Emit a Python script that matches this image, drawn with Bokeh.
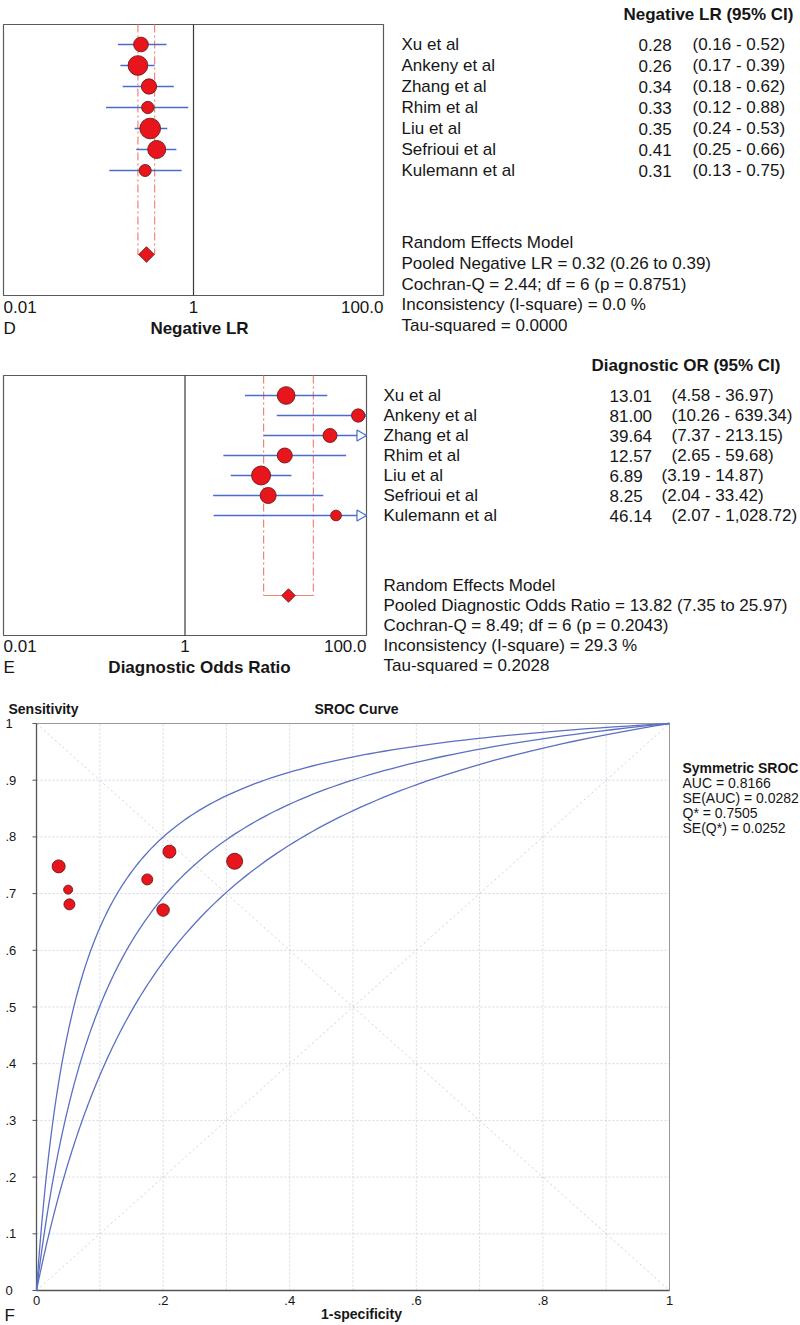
import numpy as np
from bokeh.plotting import figure
from bokeh.layouts import column
from bokeh.models import Range1d, LogScale
from bokeh.core.properties import value
from bokeh.embed import file_html
from bokeh.resources import INLINE

# ---------------- data ----------------
studies = ["Xu et al", "Ankeny et al", "Zhang et al", "Rhim et al",
           "Liu et al", "Sefrioui et al", "Kulemann et al"]

nlr = [0.28, 0.26, 0.34, 0.33, 0.35, 0.41, 0.31]
nlr_lo = [0.16, 0.17, 0.18, 0.12, 0.24, 0.25, 0.13]
nlr_hi = [0.52, 0.39, 0.62, 0.88, 0.53, 0.66, 0.75]
nlr_weight = [14.7, 19.7, 15.3, 12.3, 20.7, 18.0, 12.0]   # marker diameter ~ study weight
nlr_pooled, nlr_pooled_lo, nlr_pooled_hi = 0.32, 0.26, 0.39
nlr_stats = ["Random Effects Model",
             "Pooled Negative LR = 0.32 (0.26 to 0.39)",
             "Cochran-Q = 2.44; df =  6 (p = 0.8751)",
             "Inconsistency (I-square) = 0.0 %",
             "Tau-squared = 0.0000"]

dor = [13.01, 81.00, 39.64, 12.57, 6.89, 8.25, 46.14]
dor_lo = [4.58, 10.26, 7.37, 2.65, 3.19, 2.04, 2.07]
dor_hi = [36.97, 639.34, 213.15, 59.68, 14.87, 33.42, 1028.72]
dor_weight = [17.7, 13.3, 14.0, 15.0, 19.0, 16.0, 10.7]
dor_pooled, dor_pooled_lo, dor_pooled_hi = 13.82, 7.35, 25.97
dor_stats = ["Random Effects Model",
             "Pooled Diagnostic Odds Ratio = 13.82 (7.35 to 25.97)",
             "Cochran-Q = 8.49; df =  6 (p = 0.2043)",
             "Inconsistency (I-square) = 29.3 %",
             "Tau-squared = 0.2028"]

forest_ticks = [0.01, 1, 100]
forest_tick_labels = ["0.01", "1", "100.0"]

sroc_fpr = [0.035, 0.050, 0.052, 0.175, 0.210, 0.200, 0.313]
sroc_tpr = [0.748, 0.707, 0.681, 0.725, 0.774, 0.671, 0.757]
sroc_weight = [13.0, 9.0, 11.0, 11.0, 13.0, 12.5, 16.0]
q_star, se_q_star = 0.7505, 0.0252
sroc_stats = ["AUC = 0.8166", "SE(AUC) = 0.0282", "Q* = 0.7505", "SE(Q*) = 0.0252"]
sroc_xticks = [0.0, 0.2, 0.4, 0.6, 0.8, 1.0]
sroc_xlabels = ["0", ".2", ".4", ".6", ".8", "1"]
sroc_yticks = [0.0, 0.1, 0.2, 0.3, 0.4, 0.5, 0.6, 0.7, 0.8, 0.9, 1.0]
sroc_ylabels = ["0", ".1", ".2", ".3", ".4", ".5", ".6", ".7", ".8", ".9", "1"]
sroc_grid = [0.1, 0.2, 0.3, 0.4, 0.5, 0.6, 0.7, 0.8, 0.9]

# ---------------- styling / layout ----------------
W = 800
FONT = "Liberation Sans"
BIG = "17px"
SMALL = "14px"
TICKF = "13px"
RED = "#e8161c"
EDGE = "#6a1a1a"
BLUE = "#4a6ccc"
DASH = "#f08478"
TXT = "#161616"
X_MIN, X_MAX = 0.01, 100.0


def base_fig(H, x_range, y_range):
    p = figure(width=W, height=H, x_range=x_range, y_range=y_range,
               x_axis_location=None, y_axis_location=None, min_border=0,
               toolbar_location=None, output_backend="svg", outline_line_color=None)
    p.grid.visible = False
    return p


def forest(top, H, row1, spacing, box_top, box_bot, box_right,
           est, lo, hi, weight, pooled, plo, phi, diamond,
           header, header_right, header_y, name_x, val_x, ci_gap,
           stats, stats_y, stats_step, tick_y, letter, title, title_y):
    n = len(est)
    rows = np.arange(1, n + 1, dtype=float)
    pooled_row = n + 4.0

    def r(ref):
        return 1.0 + (ref - row1) / spacing

    p = base_fig(H, Range1d(0, W), Range1d(r(top + H), r(top)))
    L, R = 3.0, float(box_right)
    ppd = (R - L) / 4.0
    p.extra_x_ranges = {"log": Range1d(10 ** (-2 - L / ppd), 10 ** (2 + (W - R) / ppd))}
    p.extra_x_scales = {"log": LogScale()}

    p.quad(left=[X_MIN], right=[X_MAX], top=[r(box_top)], bottom=[r(box_bot)],
           x_range_name="log", fill_color=None, line_color="#5a5a5a", line_width=1.2)
    p.segment(x0=[1], x1=[1], y0=[r(box_top)], y1=[r(box_bot)], x_range_name="log",
              line_color="#3a3a3a", line_width=1.2)
    p.segment(x0=[plo, phi], x1=[plo, phi], y0=[r(box_top)] * 2, y1=[pooled_row] * 2,
              x_range_name="log", line_color=DASH, line_dash="8 3 2 3", line_width=1.2)
    p.segment(x0=[plo], x1=[phi], y0=[pooled_row], y1=[pooled_row],
              x_range_name="log", line_color=DASH, line_width=1.2)
    lo_a = np.clip(np.array(lo), X_MIN, X_MAX)
    hi_a = np.clip(np.array(hi), X_MIN, X_MAX)
    p.segment(x0=lo_a, x1=hi_a, y0=rows, y1=rows, x_range_name="log",
              line_color=BLUE, line_width=1.3)
    over = np.array(hi) > X_MAX
    if over.any():
        tri = 11.0
        ax = 10 ** (np.log10(X_MAX) - (tri / np.sqrt(3)) / ppd)
        p.scatter(x=[ax] * int(over.sum()), y=rows[over], marker="triangle",
                  angle=-np.pi / 2, size=tri, fill_color="white",
                  line_color=BLUE, line_width=1.2, x_range_name="log")
    p.scatter(x=est, y=rows, size=weight, marker="circle",
              fill_color=RED, line_color=EDGE, line_width=0.9, x_range_name="log")
    p.scatter(x=[pooled], y=[pooled_row], size=diamond, marker="square",
              angle=np.pi / 4, fill_color=RED, line_color=EDGE, line_width=0.9,
              x_range_name="log")

    common = dict(text_font=value(FONT), text_font_size=BIG, text_baseline="middle",
                  text_color=TXT)
    p.text(x=[header_right], y=[r(header_y)], text=[header], text_align="right",
           text_font_style="bold", **common)
    p.text(x=[name_x] * n, y=rows, text=studies, text_align="left", **common)
    vals = [f"{v:.2f}" for v in est]
    cis = [f"({a:,.2f} - {b:,.2f})" for a, b in zip(lo, hi)]
    p.text(x=[val_x] * n, y=rows, text=vals, text_align="left", **common)
    p.text(x=[val_x + 10 * len(v) + ci_gap for v in vals], y=rows, text=cis,
           text_align="left", **common)
    p.text(x=[name_x] * len(stats),
           y=[r(stats_y + i * stats_step) for i in range(len(stats))],
           text=stats, text_align="left", **common)
    for t, lab, al in zip(forest_ticks, forest_tick_labels, ["left", "center", "right"]):
        p.text(x=[t], y=[r(tick_y)], text=[lab], text_align=al, x_range_name="log", **common)
    p.text(x=[3], y=[r(title_y)], text=[letter], text_align="left", **common)
    p.text(x=[199], y=[r(title_y)], text=[title], text_align="center",
           text_font_style="bold", **common)
    return p


pD = forest(0, 345, 44, 21.0, 24, 295, 383, nlr, nlr_lo, nlr_hi, nlr_weight,
            nlr_pooled, nlr_pooled_lo, nlr_pooled_hi, 11.0,
            "Negative LR (95% CI)", 793, 14, 401, 638, 14,
            nlr_stats, 242, 20.8, 306, "D", "Negative LR", 328)

pE = forest(345, 343, 395, 20.0, 375, 635, 366, dor, dor_lo, dor_hi, dor_weight,
            dor_pooled, dor_pooled_lo, dor_pooled_hi, 9.5,
            "Diagnostic OR (95% CI)", 780, 365, 383, 609, 12,
            dor_stats, 585, 20.0, 645, "E", "Diagnostic Odds Ratio", 667)

# ---------------- SROC ----------------
topF, HF = 688, 636
X0P, X1P, Y0P, Y1P = 36.0, 669.0, 1290.0, 723.0   # plot box in page pixels


def dx(px):
    return (px - X0P) / (X1P - X0P)


def dy(py):
    return (Y0P - py) / (Y0P - Y1P)


pF = base_fig(HF, Range1d(dx(0), dx(W)), Range1d(dy(topF + HF), dy(topF)))

# grid
g = np.array(sroc_grid)
pF.segment(x0=g, x1=g, y0=0, y1=1, line_color="#d3d7e2", line_dash="2 2", line_width=1)
pF.segment(x0=0, x1=1, y0=g, y1=g, line_color="#d3d7e2", line_dash="2 2", line_width=1)
# diagonals
pF.line([0, 1], [1, 0], line_color="#cfd0d6", line_dash="2 3", line_width=1)
pF.line([0, 1], [0, 1], line_color="#cfd0d6", line_dash="2 3", line_width=1)
# box and axes
pF.quad(left=[0], right=[1], bottom=[0], top=[1], fill_color=None,
        line_color="#9a9a9a", line_width=1)
pF.segment(x0=[0, 0], x1=[0, 1], y0=[0, 0], y1=[1, 0], line_color="#555555", line_width=1.3)
yt = np.array(sroc_yticks)
pF.segment(x0=dx(X0P - 4), x1=0, y0=yt, y1=yt, line_color="#555555", line_width=1)
pF.text(x=dx(5), y=yt, text=sroc_ylabels, text_font=value(FONT), text_font_size=TICKF,
        text_align="left", text_baseline="middle", text_color=TXT)
pF.text(x=sroc_xticks, y=dy(1300), text=sroc_xlabels, text_font=value(FONT),
        text_font_size=TICKF, text_align="center", text_baseline="middle", text_color=TXT)

# SROC curves (symmetric Moses-Littenberg model at Q* and Q* +/- 1.96 SE)
fgrid = np.concatenate([[0.0], np.logspace(-5, 0, 500)])
safe = np.where(fgrid > 0, fgrid, 1.0)
for q in (q_star - 1.96 * se_q_star, q_star, q_star + 1.96 * se_q_star):
    dlog = 2 * np.log(q / (1 - q))
    tpr = np.where(fgrid > 0, 1 / (1 + (1 - safe) / safe * np.exp(-dlog)), 0.0)
    pF.line(fgrid, tpr, line_color="#5b6fc4", line_width=1.3)

pF.scatter(sroc_fpr, sroc_tpr, size=sroc_weight, marker="circle",
           fill_color=RED, line_color=EDGE, line_width=0.9)


def lab(px, py, text, size, bold=False, align="left"):
    pF.text(x=[dx(px)], y=[dy(py)], text=[text], text_font=value(FONT),
            text_font_size=size, text_font_style="bold" if bold else "normal",
            text_align=align, text_baseline="middle", text_color=TXT)


lab(8, 708, "Sensitivity", SMALL, bold=True)
lab(356, 708, "SROC Curve", SMALL, bold=True, align="center")
lab(682, 767, "Symmetric SROC", SMALL, bold=True)
for i, t in enumerate(sroc_stats):
    lab(682, 782 + 15 * i, t, SMALL)
lab(361, 1313, "1-specificity", SMALL, bold=True, align="center")
lab(4, 1315, "F", BIG)

layout = column(pD, pE, pF, spacing=0)
open("out.html", "w").write(file_html(layout, INLINE))
